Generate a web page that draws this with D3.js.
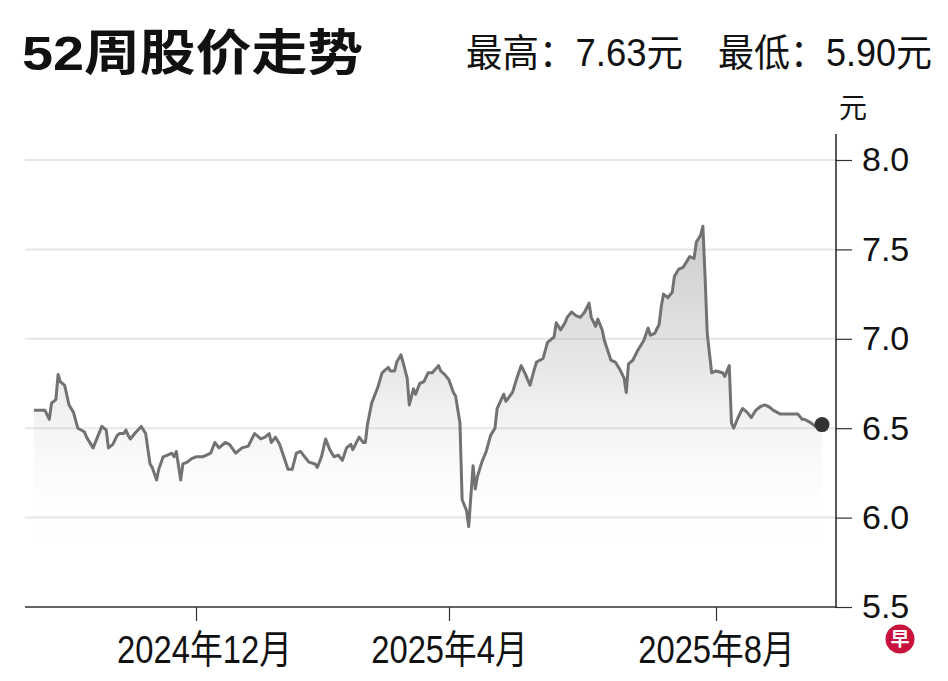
<!DOCTYPE html>
<html><head><meta charset="utf-8">
<script src="https://cdn.jsdelivr.net/npm/d3@7"></script>
<style>
html,body{margin:0;padding:0;background:#fff;}
svg{display:block;}
text{font-family:"Liberation Sans","Noto Sans CJK SC",sans-serif;}
</style></head><body>
<svg id="chart" width="948" height="681"></svg>
<script>
// ---------- data ----------
const dates = [
"2024-09-18","2024-09-23","2024-09-25","2024-09-26","2024-09-28","2024-09-29","2024-09-30","2024-10-02","2024-10-04","2024-10-06",
"2024-10-08","2024-10-11","2024-10-12","2024-10-15","2024-10-17","2024-10-19","2024-10-21","2024-10-22","2024-10-24","2024-10-26",
"2024-10-27","2024-10-29","2024-10-30","2024-10-31","2024-11-01","2024-11-03","2024-11-06","2024-11-08","2024-11-10","2024-11-11",
"2024-11-13","2024-11-14","2024-11-16","2024-11-18","2024-11-20","2024-11-21","2024-11-22","2024-11-24","2024-11-25","2024-11-27",
"2024-11-29","2024-12-01","2024-12-04","2024-12-06","2024-12-08","2024-12-10","2024-12-12","2024-12-15","2024-12-17","2024-12-20",
"2024-12-23","2024-12-26","2024-12-29","2025-01-01","2025-01-03","2025-01-05","2025-01-06","2025-01-08","2025-01-10","2025-01-14",
"2025-01-16","2025-01-18","2025-01-20","2025-01-22","2025-01-24","2025-01-27","2025-01-28","2025-01-30","2025-02-01","2025-02-03",
"2025-02-05","2025-02-07","2025-02-09","2025-02-11","2025-02-13","2025-02-14","2025-02-17","2025-02-19","2025-02-20","2025-02-21",
"2025-02-23","2025-02-25","2025-02-26","2025-02-28","2025-03-01","2025-03-03","2025-03-04","2025-03-06","2025-03-07","2025-03-09",
"2025-03-10","2025-03-12","2025-03-13","2025-03-15","2025-03-16","2025-03-18","2025-03-20","2025-03-22","2025-03-24","2025-03-27",
"2025-03-28","2025-03-30","2025-04-01","2025-04-03","2025-04-04","2025-04-06","2025-04-07","2025-04-09","2025-04-10","2025-04-12",
"2025-04-13","2025-04-14","2025-04-16","2025-04-18","2025-04-20","2025-04-22","2025-04-23","2025-04-26","2025-04-27","2025-04-30",
"2025-05-02","2025-05-04","2025-05-06","2025-05-08","2025-05-10","2025-05-11","2025-05-14","2025-05-16","2025-05-17","2025-05-19",
"2025-05-20","2025-05-22","2025-05-24","2025-05-25","2025-05-27","2025-05-29","2025-05-31","2025-06-02","2025-06-04","2025-06-05",
"2025-06-07","2025-06-08","2025-06-10","2025-06-11","2025-06-14","2025-06-16","2025-06-18","2025-06-20","2025-06-21","2025-06-22",
"2025-06-24","2025-06-26","2025-06-29","2025-07-01","2025-07-02","2025-07-04","2025-07-06","2025-07-07","2025-07-08","2025-07-10",
"2025-07-12","2025-07-13","2025-07-15","2025-07-17","2025-07-19","2025-07-20","2025-07-22","2025-07-23","2025-07-25","2025-07-26",
"2025-07-27","2025-07-28","2025-07-30","2025-08-01","2025-08-04","2025-08-05","2025-08-07","2025-08-08","2025-08-09","2025-08-11",
"2025-08-13","2025-08-15","2025-08-17","2025-08-19","2025-08-21","2025-08-23","2025-08-25","2025-08-27","2025-08-30","2025-09-02",
"2025-09-05","2025-09-07","2025-09-09","2025-09-10","2025-09-13","2025-09-15","2025-09-18"
];
const prices = [
6.60,6.60,6.55,6.64,6.66,6.80,6.76,6.74,6.63,6.59,
6.50,6.48,6.45,6.39,6.45,6.51,6.49,6.39,6.41,6.46,
6.47,6.47,6.49,6.46,6.44,6.47,6.51,6.47,6.30,6.28,
6.21,6.27,6.34,6.35,6.36,6.34,6.37,6.21,6.30,6.31,
6.33,6.34,6.34,6.35,6.36,6.42,6.39,6.42,6.41,6.36,
6.39,6.40,6.47,6.44,6.45,6.47,6.42,6.45,6.41,6.27,
6.27,6.36,6.37,6.34,6.31,6.30,6.28,6.34,6.44,6.38,
6.34,6.35,6.32,6.39,6.41,6.38,6.45,6.42,6.42,6.52,
6.64,6.70,6.73,6.81,6.82,6.84,6.82,6.82,6.87,6.91,
6.87,6.78,6.63,6.72,6.69,6.75,6.76,6.81,6.81,6.85,
6.82,6.80,6.77,6.70,6.68,6.53,6.10,6.04,5.95,6.29,
6.16,6.23,6.31,6.37,6.46,6.50,6.61,6.69,6.65,6.70,
6.78,6.85,6.80,6.74,6.83,6.87,6.89,6.98,6.99,7.01,
7.09,7.05,7.09,7.12,7.15,7.13,7.12,7.15,7.20,7.12,
7.07,7.11,7.05,6.99,6.88,6.87,6.83,6.78,6.70,6.86,
6.88,6.93,6.99,7.06,7.02,7.03,7.08,7.18,7.25,7.23,
7.26,7.35,7.39,7.40,7.44,7.46,7.45,7.54,7.58,7.63,
7.35,7.03,6.81,6.82,6.81,6.79,6.85,6.53,6.50,6.56,
6.61,6.59,6.56,6.60,6.62,6.63,6.62,6.60,6.58,6.58,
6.58,6.58,6.55,6.55,6.53,6.51,6.52
];
const yTicks = [5.5, 6.0, 6.5, 7.0, 7.5, 8.0];
const gridValues = [6.0, 6.5, 7.0, 7.5, 8.0];
const xTickDates = ["2024-12-01", "2025-04-01", "2025-08-01"];
const titleText = "52周股价走势";
const highText = "最高：7.63元";
const lowText = "最低：5.90元";
const unitText = "元";
const logoText = "早";

// ---------- setup ----------
const parse = d3.timeParse("%Y-%m-%d");
const series = dates.map((d, i) => ({date: parse(d), value: prices[i]}));
const svg = d3.select("#chart");

// piecewise time scale emulating trading-day spacing
const x = d3.scaleTime()
  .domain([parse("2024-09-18"), parse("2024-12-01"), parse("2025-04-01"), parse("2025-08-01"), parse("2025-09-18")])
  .range([34, 196, 449, 716, 822]);
const y = d3.scaleLinear().domain([5.5, 8.0]).range([607, 160]);

const plotLeft = 25, plotRight = 836;

function fit(sel, w) {
  sel.attr("textLength", w).attr("lengthAdjust", "spacingAndGlyphs");
}

// gradient
const defs = svg.append("defs");
const grad = defs.append("linearGradient").attr("id", "areaGrad")
  .attr("gradientUnits", "userSpaceOnUse")
  .attr("x1", 0).attr("x2", 0)
  .attr("y1", y(7.63)).attr("y2", y(5.85));
grad.append("stop").attr("offset", "0").attr("stop-color", "#8a8a8a").attr("stop-opacity", 0.45);
grad.append("stop").attr("offset", "0.5").attr("stop-color", "#9a9a9a").attr("stop-opacity", 0.2);
grad.append("stop").attr("offset", "1").attr("stop-color", "#ffffff").attr("stop-opacity", 0);

// gridlines
svg.append("g").selectAll("line").data(gridValues).join("line")
  .attr("x1", plotLeft).attr("x2", plotRight)
  .attr("y1", d => y(d)).attr("y2", d => y(d))
  .attr("stroke", "#e6e6e6").attr("stroke-width", 2);

// area
svg.append("path").datum(series)
  .attr("fill", "url(#areaGrad)")
  .attr("d", d3.area().x(d => x(d.date)).y0(y(5.5)).y1(d => y(d.value)));

// line
svg.append("path").datum(series)
  .attr("fill", "none").attr("stroke", "#727272").attr("stroke-width", 3)
  .attr("stroke-linejoin", "round")
  .attr("d", d3.line().x(d => x(d.date)).y(d => y(d.value)));

// end dot
const last = series[series.length - 1];
svg.append("circle").attr("cx", x(last.date)).attr("cy", y(last.value))
  .attr("r", 7.5).attr("fill", "#333");

// x axis
const xAxis = svg.append("g").attr("transform", `translate(0,${y(5.5)})`)
  .call(d3.axisBottom(x).tickValues(xTickDates.map(parse))
    .tickSize(14).tickFormat(d3.timeFormat("%Y年%-m月")));
xAxis.select(".domain").remove();
xAxis.selectAll(".tick line").attr("stroke", "#333").attr("stroke-width", 1.2);
xAxis.selectAll(".tick text")
  .attr("y", 28).attr("dy", "0.71em")
  .attr("font-size", 39).attr("fill", "#111")
  .style("font-family", '"Liberation Sans","Noto Sans CJK SC",sans-serif')
  .each(function(d, i) {
    const w = this.getComputedTextLength();
    fit(d3.select(this), w * 0.84);
    if (i === 0) d3.select(this).attr("dx", 8);
  });
svg.append("line").attr("x1", plotLeft).attr("x2", plotRight)
  .attr("y1", y(5.5)).attr("y2", y(5.5))
  .attr("stroke", "#333").attr("stroke-width", 1.5);

// y axis
const yAxis = svg.append("g").attr("transform", `translate(${plotRight},0)`)
  .call(d3.axisRight(y).tickValues(yTicks).tickSize(16).tickPadding(10)
    .tickFormat(d3.format(".1f")));
yAxis.select(".domain").remove();
yAxis.selectAll(".tick line").attr("stroke", "#333").attr("stroke-width", 1.2);
yAxis.selectAll(".tick text").attr("font-size", 34).attr("fill", "#111")
  .style("font-family", '"Liberation Sans","Noto Sans CJK SC",sans-serif');
svg.append("line").attr("x1", plotRight).attr("x2", plotRight)
  .attr("y1", y(8.0) - 26).attr("y2", y(5.5) + 1)
  .attr("stroke", "#222").attr("stroke-width", 1.5);

// unit
svg.append("text").attr("x", 839).attr("y", 118)
  .attr("font-size", 28).attr("fill", "#111").text(unitText);

// title
svg.append("text").attr("x", 22).attr("y", 70)
  .attr("font-size", 49).attr("font-weight", "bold").attr("fill", "#111")
  .text(titleText).call(fit, 341);

// high / low
svg.append("text").attr("x", 466).attr("y", 66)
  .attr("font-size", 38).attr("fill", "#111").text(highText).call(fit, 217);
svg.append("text").attr("x", 718).attr("y", 66)
  .attr("font-size", 38).attr("fill", "#111").text(lowText).call(fit, 214);

// logo
const logo = svg.append("g").attr("transform", "translate(900,639)");
logo.append("circle").attr("r", 14.5).attr("fill", "#c8123c");
logo.append("text").attr("text-anchor", "middle").attr("dy", "0.36em")
  .attr("font-size", 19).attr("font-weight", "bold").attr("fill", "#fff")
  .style("font-family", '"Noto Sans CJK SC",sans-serif').text(logoText);
</script>
</body></html>
